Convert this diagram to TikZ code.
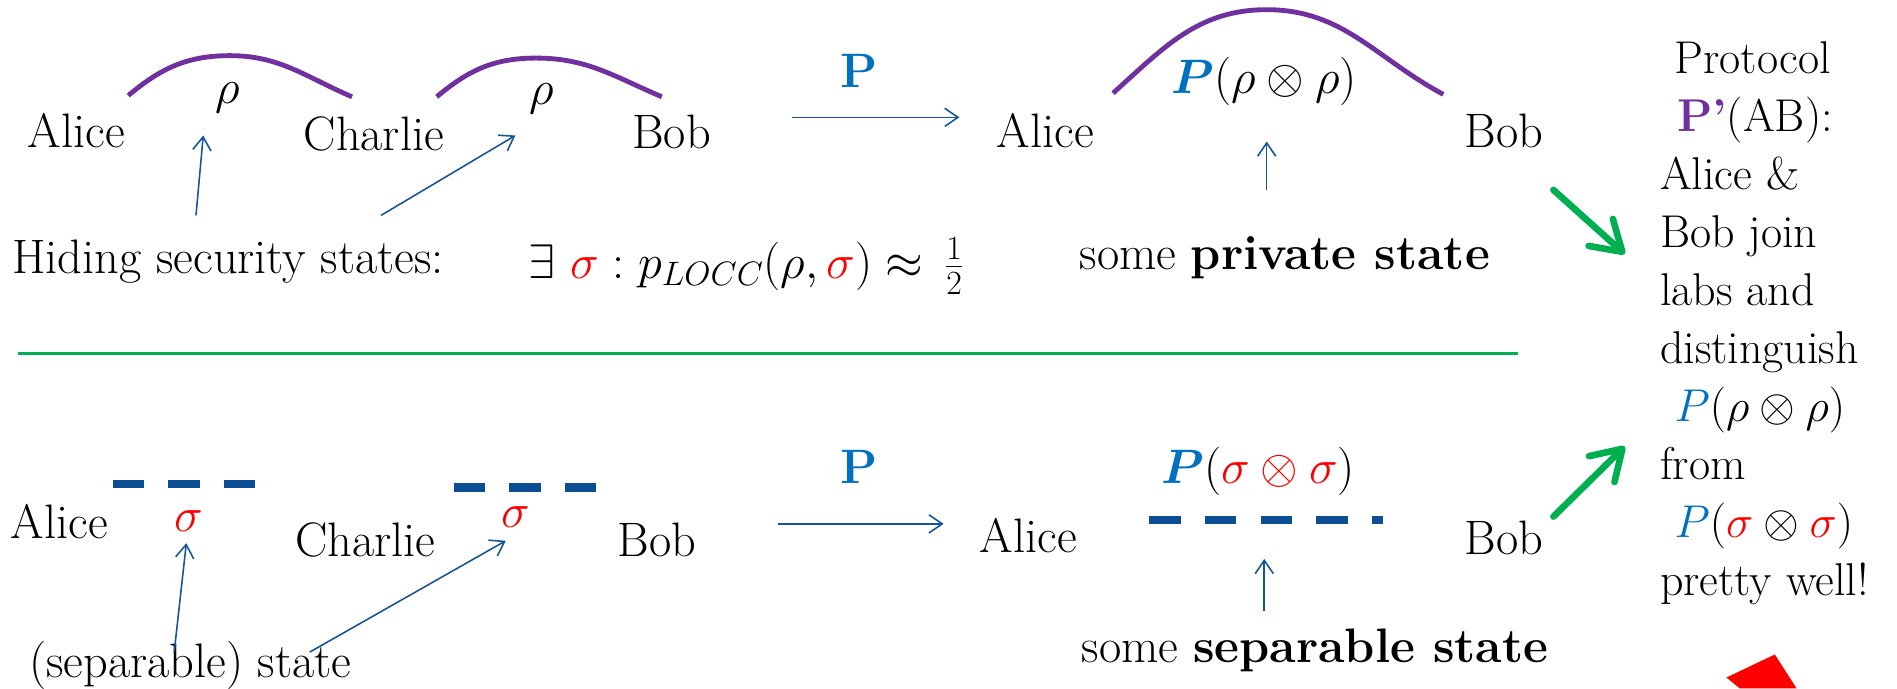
\RequirePackage{fix-cm}
\documentclass[tikz,border=0pt]{standalone}
\usepackage{amsmath}
\usetikzlibrary{arrows.meta}
\definecolor{entpurple}{RGB}{112,48,160}
\definecolor{linkblue}{RGB}{22,84,152}
\definecolor{protblue}{RGB}{0,112,192}
\definecolor{okgreen}{RGB}{0,176,80}
\definecolor{dashblue}{RGB}{11,78,148}

\begin{document}
\begin{tikzpicture}[x=1pt,y=-1pt,
    every node/.style={font=\fontsize{40}{48}\selectfont, inner sep=0pt},
    party/.style={anchor=base},
    ent/.style={entpurple, line width=4pt},
    sepline/.style={dashblue, line width=7pt, dash pattern=on 26pt off 20pt},
    ptr/.style={linkblue, line width=1.3pt, -{Straight Barb[length=11pt,width=15pt]}},
    bigarr/.style={okgreen, line width=5.5pt, line cap=round, -{Straight Barb[length=24pt,width=30pt,round]}}]
    \useasboundingbox (0,0) rectangle (1568,569);

    % top row: hiding states
    \node[party] (aliceA) at (63,122) {Alice};
    \node[party] (charlieA) at (309,124) {Charlie};
    \node[party] (bobA) at (555,123) {Bob};
    \node (rhoA) at (188,81) {$\rho$};
    \node (rhoB) at (448,82) {$\rho$};
    \draw[ent] (106,79) to[out=40,in=180] (190,46) to[out=0,in=157] (291,80);
    \draw[ent] (361,80) to[out=40,in=180] (443,48) to[out=0,in=157] (547,80);
    \node[anchor=base west] (hiding) at (10,226) {Hiding security states:};
    \node[anchor=base west] (cond) at (437,230) {$\exists\ {\color{red}\sigma} : p_{LOCC}(\rho,{\color{red}\sigma}) \approx\, \frac{1}{2}$};
    \coordinate (hA) at (162,178);
    \coordinate (hAtip) at (168,112);
    \coordinate (hB) at (315,178);
    \coordinate (hBtip) at (426,112);
    \draw[ptr] (hA) -- (hAtip);
    \draw[ptr] (hB) -- (hBtip);

    \node[text=protblue] (protA) at (710,59) {\textbf{P}};
    \coordinate (pAs) at (655,97);
    \coordinate (pAe) at (793,97);
    \draw[ptr] (pAs) -- (pAe);

    \node[party] (aliceB) at (864,122) {Alice};
    \node[party] (bobB) at (1243,122) {Bob};
    \node (prr) at (1045,67) {${\color{protblue}\boldsymbol{P}}(\rho\otimes\rho)$};
    \draw[ent] (920,77) to[out=42,in=180] (1047,8) to[out=0,in=152] (1193,78);
    \node[party] (priv) at (1062,223) {some \textbf{private state}};
    \coordinate (upA) at (1047,157);
    \coordinate (upAtip) at (1047,117);
    \draw[ptr] (upA) -- (upAtip);

    \coordinate (gA) at (1284,157);
    \coordinate (gAtip) at (1343,210);
    \draw[bigarr] (gA) -- (gAtip);

    \draw[okgreen, line width=2.5pt] (15,292) -- (1255,292);

    % bottom row: separable states
    \node[party] (aliceC) at (49,445) {Alice};
    \node[party] (charlieC) at (302,460) {Charlie};
    \node[party] (bobC) at (543,460) {Bob};
    \node (sigA) at (156,431) {$\color{red}\sigma$};
    \node (sigB) at (426,427) {$\color{red}\sigma$};
    \draw[sepline] (93,400) -- (212,400);
    \draw[sepline] (375,403) -- (494,403);
    \node[anchor=base west] (septxt) at (24,560) {(separable) state};
    \coordinate (sA) at (144,539);
    \coordinate (sAtip) at (154,449);
    \coordinate (sB) at (256,539);
    \coordinate (sBtip) at (418,447);
    \draw[ptr] (sA) -- (sAtip);
    \draw[ptr] (sB) -- (sBtip);

    \node[text=protblue] (protB) at (710,386) {\textbf{P}};
    \coordinate (pBs) at (643,433);
    \coordinate (pBe) at (780,433);
    \draw[ptr] (pBs) -- (pBe);

    \node[party] (aliceD) at (850,457) {Alice};
    \node[party] (bobD) at (1243,458) {Bob};
    \node (pss) at (1040,390) {${\color{protblue}\boldsymbol{P}}({\color{red}\sigma\otimes\sigma})$};
    \draw[sepline] (950,430) -- (1143,430);
    \node[party] (sepst) at (1087,548) {some \textbf{separable state}};
    \coordinate (upB) at (1045,505);
    \coordinate (upBtip) at (1045,462);
    \draw[ptr] (upB) -- (upBtip);

    \coordinate (gB) at (1284,427);
    \coordinate (gBtip) at (1343,369);
    \draw[bigarr] (gB) -- (gBtip);

    % protocol P' text
    \node[anchor=north west, align=left, font=\fontsize{38}{48}\selectfont] (joint) at (1372,34) {\hspace*{12pt}Protocol\\
        \hspace*{14pt}{\color{entpurple}\textbf{P'}}(AB):\\
        Alice \&\\
        Bob join\\
        labs and\\
        distinguish\\
        \hspace*{12pt}${\color{protblue}P}(\rho\otimes\rho)$\\
        from\\
        \hspace*{12pt}${\color{protblue}P}({\color{red}\sigma}\otimes{\color{red}\sigma})$\\
        pretty well!};

    \fill[red] (1427,560) -- (1467,541) -- (1485,569) -- (1438,569) -- cycle;
\end{tikzpicture}
\end{document}
